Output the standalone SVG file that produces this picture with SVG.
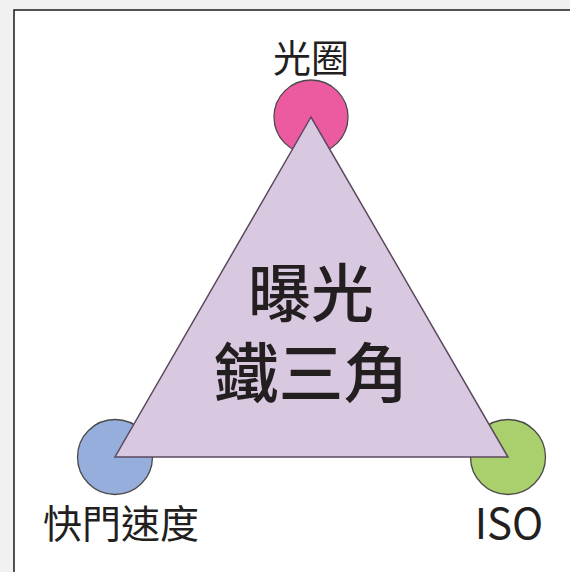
<svg xmlns="http://www.w3.org/2000/svg" width="570" height="572" viewBox="0 0 570 572">
<style>
.lbl{font-family:"Noto Sans CJK TC","Noto Sans",sans-serif;fill:#231f20;text-anchor:middle}
.dot{stroke:#4a4a4a;stroke-width:1.3}
.big{font-weight:500}
</style>
<rect x="0" y="0" width="570" height="572" fill="#f1f1f1"/>
<rect x="14" y="10" width="570" height="580" fill="#ffffff" stroke="#1a1a1a" stroke-width="1.5"/>
<g id="node-aperture">
<circle class="dot" cx="311" cy="117" r="37" fill="#ec5aa0"/>
<text class="lbl" x="311" y="72" font-size="38">光圈</text>
</g>
<g id="node-shutter">
<circle class="dot" cx="115" cy="457" r="37.5" fill="#95aedc"/>
<text class="lbl" x="121" y="538" font-size="39">快門速度</text>
</g>
<g id="node-iso">
<circle class="dot" cx="508" cy="457" r="37.5" fill="#a9d06c"/>
<text class="lbl" x="509" y="539" font-size="42" font-family="'Open Sans',sans-serif">ISO</text>
</g>
<g id="connectors">
<polygon points="311,117 115,457 508,457" fill="#d8c9e1" stroke="#5b4a5e" stroke-width="1.5" stroke-linejoin="miter"/>
</g>
<g id="node-center">
<text class="lbl big" x="311" y="316" font-size="63">曝光</text>
<text class="lbl big" x="311" y="397" font-size="65">鐵三角</text>
</g>
</svg>
